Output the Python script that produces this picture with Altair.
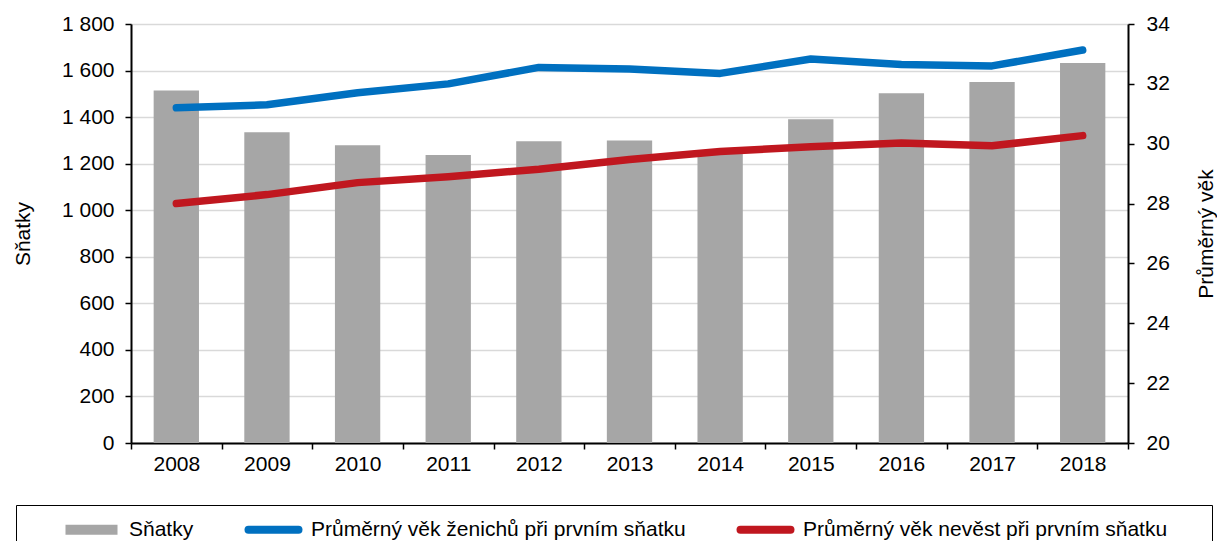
import altair as alt
import pandas as pd

years = ["2008", "2009", "2010", "2011", "2012", "2013", "2014", "2015", "2016", "2017", "2018"]
snatky = [1514, 1335, 1279, 1237, 1296, 1299, 1255, 1391, 1503, 1551, 1632]
vek_zenichu = [31.2, 31.3, 31.7, 32.0, 32.55, 32.5, 32.35, 32.83, 32.65, 32.6, 33.13]
vek_nevest = [28.0, 28.3, 28.7, 28.9, 29.15, 29.47, 29.74, 29.9, 30.02, 29.93, 30.27]

series_names = [
    "Sňatky",
    "Průměrný věk ženichů při prvním sňatku",
    "Průměrný věk nevěst při prvním sňatku",
]
colors = ["#A6A6A6", "#0070C0", "#C0171F"]

left_ticks = list(range(0, 1801, 200))
right_ticks = list(range(20, 35, 2))

FONT = "Liberation Sans, Arial, sans-serif"

bars_df = pd.DataFrame({"rok": years, "hodnota": snatky, "serie": series_names[0]})
lines_df = pd.DataFrame({
    "rok": years + years,
    "vek": vek_zenichu + vek_nevest,
    "serie": [series_names[1]] * len(years) + [series_names[2]] * len(years),
})

# legend symbol shapes (unit = 10 px, symbol centre 10 px from entry start)
gray_path = "M-0.7,-0.5H4.5V0.5H-0.7Z"
line_path = "M-0.6,-0.4H4.4Q4.8,-0.4,4.8,0Q4.8,0.4,4.4,0.4H-0.6Q-1,0.4,-1,0Q-1,-0.4,-0.6,-0.4Z"

pad = "\u2800\u2800"
legend = alt.Legend(
    title=" ",
    titleOrient="left",
    titlePadding=32,
    orient="none",
    legendX=-115,
    legendY=481,
    direction="horizontal",
    columns=3,
    columnPadding=50,
    padding=14,
    strokeColor="black",
    labelFont=FONT,
    labelFontSize=21,
    labelColor="black",
    labelLimit=1000,
    labelOffset=46,
    labelExpr="indexof(datum.label, 'nevěst') >= 0 ? datum.label + '" + pad + "' : datum.label",
    symbolSize=400,
    symbolOpacity=1,
    symbolStrokeWidth=0,
    symbolType={"expr": "datum.value === 'Sňatky' ? '" + gray_path + "' : '" + line_path + "'"},
)

color_scale = alt.Scale(domain=series_names, range=colors)

x_enc = alt.X(
    "rok:N",
    sort=years,
    scale=alt.Scale(paddingInner=0, paddingOuter=0),
    axis=alt.Axis(
        title=None,
        labelAngle=0,
        tickBand="extent",
        grid=False,
        domainColor="black",
        domainWidth=2,
        tickColor="black",
        tickWidth=1.5,
        tickSize=6,
        labelPadding=4,
        labelFont=FONT,
        labelFontSize=21,
        labelColor="black",
    ),
)

bars = alt.Chart(bars_df).mark_bar(width=alt.RelativeBandSize(0.5)).encode(
    x=x_enc,
    y=alt.Y(
        "hodnota:Q",
        scale=alt.Scale(domain=[0, 1800], nice=False),
        axis=alt.Axis(
            title="Sňatky",
            orient="left",
            values=left_ticks,
            labelExpr="replace(format(datum.value, ','), ',', ' ')",
            grid=True,
            gridColor="#D9D9D9",
            gridWidth=1.5,
            domainColor="black",
            domainWidth=2,
            tickColor="black",
            tickWidth=1.5,
            tickSize=6,
            labelPadding=11,
            labelFont=FONT,
            labelFontSize=21,
            labelColor="black",
            titleFont=FONT,
            titleFontSize=21,
            titleFontWeight="normal",
            titleColor="black",
            titlePadding=28,
        ),
    ),
    color=alt.Color("serie:N", scale=color_scale, legend=legend),
)

lines = alt.Chart(lines_df).mark_line(strokeWidth=7.5, strokeCap="round", strokeJoin="round").encode(
    x=x_enc,
    y=alt.Y(
        "vek:Q",
        scale=alt.Scale(domain=[20, 34], nice=False),
        axis=alt.Axis(
            title="Průměrný věk",
            orient="right",
            values=right_ticks,
            grid=False,
            domainColor="black",
            domainWidth=2,
            tickColor="black",
            tickWidth=1.5,
            tickSize=6,
            labelPadding=12,
            labelFont=FONT,
            labelFontSize=21,
            labelColor="black",
            titleFont=FONT,
            titleFontSize=21,
            titleFontWeight="normal",
            titleColor="black",
            titleAngle=270,
            titleBaseline="top",
            titlePadding=26,
        ),
    ),
    color=alt.Color("serie:N", scale=color_scale, legend=None),
    detail="serie:N",
)

chart = alt.layer(bars, lines).resolve_scale(y="independent").properties(
    width=997,
    height=419,
    autosize=alt.AutoSizeParams(type="none"),
    padding={"left": 123, "top": 16, "right": 89, "bottom": 98},
).configure_view(
    stroke="black",
    strokeWidth=1.5,
).configure_legend(
    strokeWidth=1.5,
).configure(
    font=FONT,
    background="white",
)

chart.save("out.html", embed_options={"renderer": "svg", "actions": False})
